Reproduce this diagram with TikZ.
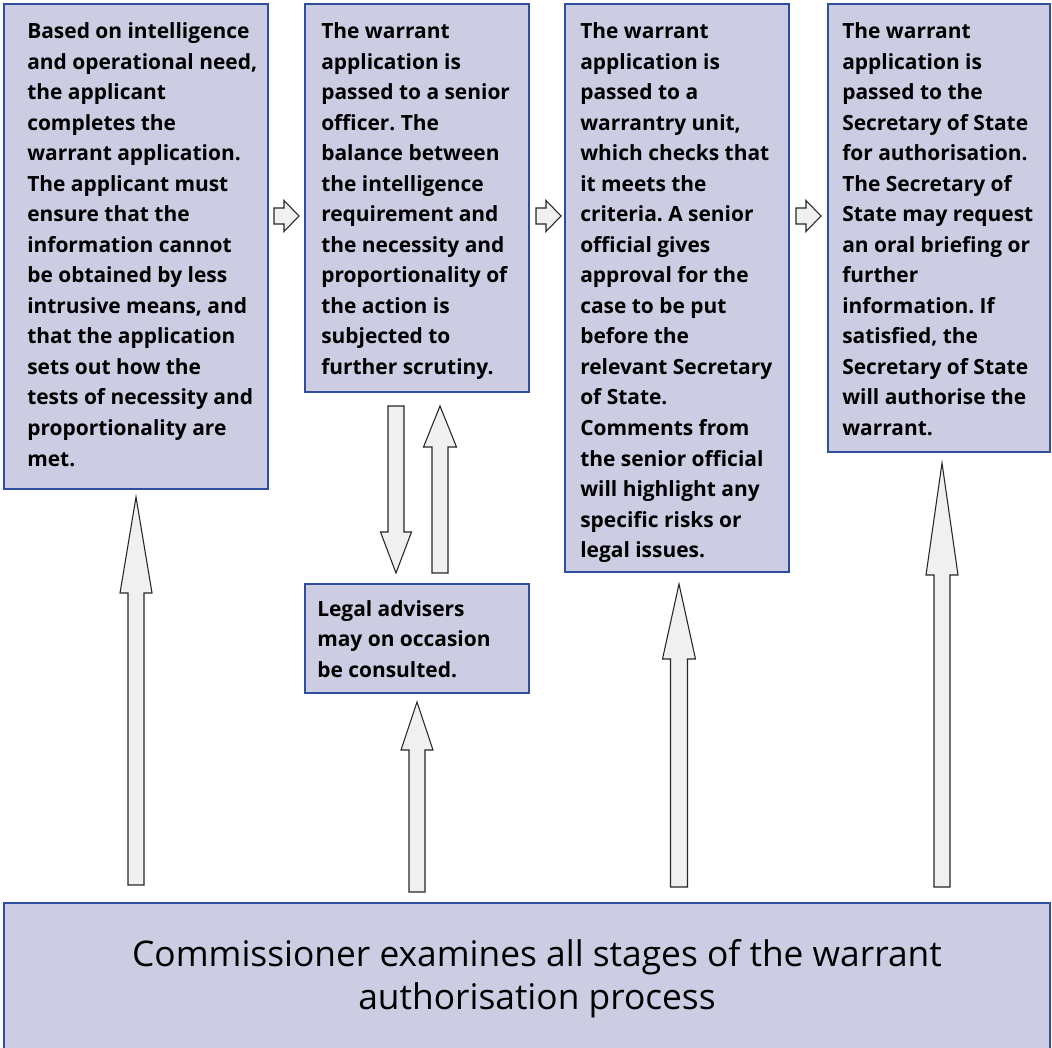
\documentclass[tikz,border=0pt]{standalone}
\usepackage{fontspec}
\setmainfont{Open Sans}
\frenchspacing
\definecolor{boxfill}{HTML}{CCCCE3}
\definecolor{boxline}{HTML}{2F4F9E}
\definecolor{arrfill}{HTML}{F0F0F0}
\newcommand\panelbox[5]{\node[panel, minimum width={(#4-#2)*0.75pt}, minimum height={(#5-#3)*0.75pt}] (#1) at (#2,#3) {};}
\newcommand\uparrblk[6]{\draw[blockarrow] (#1-#2,#6) -- (#1-#2,#5) -- (#1-#3,#5) -- (#1,#4) -- (#1+#3,#5) -- (#1+#2,#5) -- (#1+#2,#6) -- cycle;}
\newcommand\rarrblk[6]{\draw[blockarrow] (#4,#1-#2) -- (#5,#1-#2) -- (#5,#1-#3) -- (#6,#1) -- (#5,#1+#3) -- (#5,#1+#2) -- (#4,#1+#2) -- cycle;}
\begin{document}
\begin{tikzpicture}[x=0.75pt,y=-0.75pt,
  panel/.style={draw=boxline, fill=boxfill, line width=1pt, inner sep=0pt, outer sep=0pt, anchor=north west},
  txt/.style={anchor=north west, inner sep=0pt, align=left, font=\bfseries\fontsize{15.7}{22.9}\selectfont},
  bigtxt/.style={anchor=north, inner sep=0pt, align=center, font=\fontsize{26.5}{32.25}\selectfont},
  blockarrow/.style={draw=black!85, fill=arrfill, line width=0.8pt, line join=miter}]
\useasboundingbox (0,0) rectangle (1052,1048);
\panelbox{b1}{4}{4}{268}{489}
\panelbox{b2}{305}{4}{529}{392}
\panelbox{b3}{565}{4}{789}{572}
\panelbox{b4}{828}{4}{1050}{452}
\panelbox{legal}{305}{584}{529}{693}
\panelbox{comm}{4}{903}{1050}{1060}
\node[txt] (t1) at (27,22.4) {Based on intelligence\\and operational need,\\the applicant\\completes the\\warrant application.\\The applicant must\\ensure that the\\information cannot\\be obtained by less\\intrusive means, and\\that the application\\sets out how the\\tests of necessity and\\proportionality are\\met.};
\node[txt] (t2) at (321,22.4) {The warrant\\application is\\passed to a senior\\officer. The\\balance between\\the intelligence\\requirement and\\the necessity and\\proportionality of\\the action is\\subjected to\\further scrutiny.};
\node[txt] (t3) at (580,22.4) {The warrant\\application is\\passed to a\\warrantry unit,\\which checks that\\it meets the\\criteria. A senior\\official gives\\approval for the\\case to be put\\before the\\relevant Secretary\\of State.\\Comments from\\the senior official\\will highlight any\\specific risks or\\legal issues.};
\node[txt] (t4) at (842,22.4) {The warrant\\application is\\passed to the\\Secretary of State\\for authorisation.\\The Secretary of\\State may request\\an oral briefing or\\further\\information. If\\satisfied, the\\Secretary of State\\will authorise the\\warrant.};
\node[txt] (tl) at (317,600.2) {Legal advisers\\may on occasion\\be consulted.};
\node[bigtxt] (tc) at (537,939) {Commissioner examines all stages of the warrant\\authorisation process};
% right arrows between panels
\rarrblk{216}{8}{15.5}{274}{284}{299}
\rarrblk{216}{8}{15.5}{536}{546}{561}
\rarrblk{216}{8}{15.5}{796}{806}{821}
% arrows between senior officer and legal advisers
\uparrblk{396}{8}{15.5}{573}{532}{406}
\uparrblk{440}{8}{16.5}{406}{447}{573}
% arrows from commissioner
\uparrblk{136}{8}{16}{497}{593}{885}
\uparrblk{417}{8}{16}{702}{750}{892}
\uparrblk{679}{8.5}{16.5}{584}{659}{887}
\uparrblk{942}{8}{16}{463}{575}{887}
\end{tikzpicture}
\end{document}
